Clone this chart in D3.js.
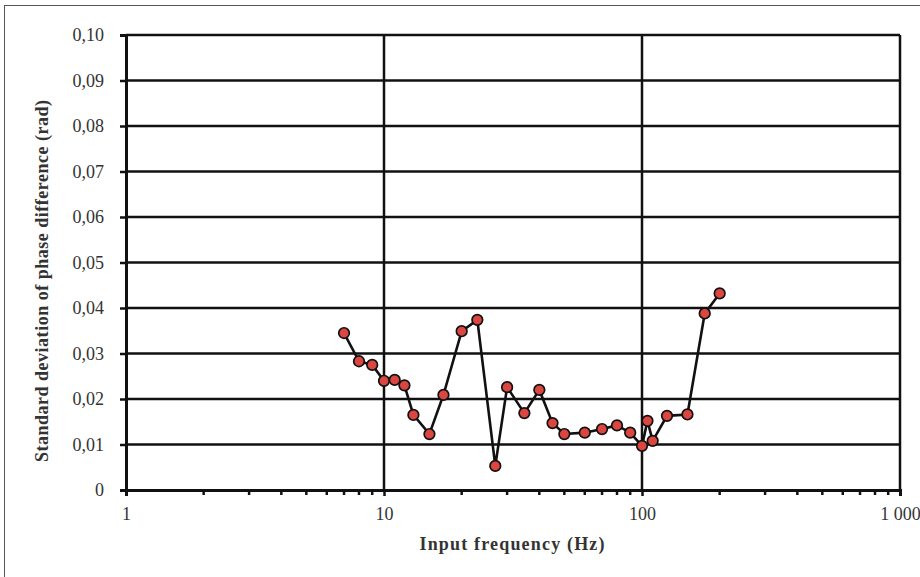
<!doctype html>
<html>
<head>
<meta charset="utf-8">
<script src="https://cdnjs.cloudflare.com/ajax/libs/d3/7.8.5/d3.min.js"></script>
<style>
  body { margin: 0; background: #fff; }
  svg text { font-family: "Liberation Serif", "DejaVu Serif", serif; fill: #333; }
</style>
</head>
<body>
<svg id="chart" width="920" height="577"></svg>
<script>
// input frequency (Hz) and std deviation of phase difference (rad)
var freq = [7, 8, 9, 10, 11, 12, 13, 15, 17, 20, 23, 27, 30, 35, 40, 45, 50, 60, 70, 80, 90, 100, 105, 110, 125, 150, 175, 200];
var stdDev = [0.0345, 0.0283, 0.0275, 0.0240, 0.0242, 0.0230, 0.0165, 0.0123, 0.0209, 0.0349, 0.0374, 0.0053, 0.0226, 0.0169, 0.0220, 0.0147, 0.0123, 0.0126, 0.0134, 0.0142, 0.0126, 0.0097, 0.0152, 0.0108, 0.0163, 0.0166, 0.0388, 0.0432];

var xTicks = [1, 10, 100, 1000];
var xTickLabels = ["1", "10", "100", "1 000"];
var yTicks = [0, 0.01, 0.02, 0.03, 0.04, 0.05, 0.06, 0.07, 0.08, 0.09, 0.10];
var yTickLabels = ["0", "0,01", "0,02", "0,03", "0,04", "0,05", "0,06", "0,07", "0,08", "0,09", "0,10"];

// plot area (note: "top" is a reserved window global, so use other names)
var plotL = 126, plotR = 900, plotT = 35, plotB = 490;

var svg = d3.select('#chart');

// outer frame
svg.append('rect')
  .attr('x', 4.5).attr('y', 5.5)
  .attr('width', 940).attr('height', 600)
  .attr('fill', 'none')
  .attr('stroke', '#555')
  .attr('stroke-width', 1);

var x = d3.scaleLog().domain([1, 1000]).range([plotL, plotR]);
var y = d3.scaleLinear().domain([0, 0.1]).range([plotB, plotT]);

// grid
svg.append('g').selectAll('line')
  .data(yTicks.slice(1))
  .enter().append('line')
  .attr('x1', plotL).attr('x2', plotR)
  .attr('y1', d => y(d)).attr('y2', d => y(d))
  .attr('stroke', '#111').attr('stroke-width', 2.5);

svg.append('g').selectAll('line')
  .data(xTicks.slice(1))
  .enter().append('line')
  .attr('x1', d => x(d)).attr('x2', d => x(d))
  .attr('y1', plotT).attr('y2', plotB)
  .attr('stroke', '#111').attr('stroke-width', 2.5);

// minor ticks 2..9 per decade
var minor = [];
[1, 10, 100].forEach(function(dec){
  for (var k = 2; k <= 9; k++) minor.push(dec * k);
});

var xAxis = d3.axisBottom(x)
  .tickValues(xTicks)
  .tickSize(6)
  .tickPadding(11)
  .tickFormat((d, i) => xTickLabels[i]);

var gx = svg.append('g')
  .attr('transform', 'translate(0,' + plotB + ')')
  .call(xAxis);
gx.select('.domain').attr('stroke', '#111').attr('stroke-width', 3);
gx.selectAll('.tick line').attr('stroke', '#111').attr('stroke-width', 2.5);
gx.selectAll('.tick text').attr('font-size', 18).attr('fill', '#333');

svg.append('g').selectAll('line')
  .data(minor)
  .enter().append('line')
  .attr('x1', d => x(d)).attr('x2', d => x(d))
  .attr('y1', plotB).attr('y2', plotB + 5)
  .attr('stroke', '#111').attr('stroke-width', 2.5);

var yAxis = d3.axisLeft(y)
  .tickValues(yTicks)
  .tickSize(6)
  .tickPadding(16)
  .tickFormat((d, i) => yTickLabels[i]);

var gy = svg.append('g')
  .attr('transform', 'translate(' + plotL + ',0)')
  .call(yAxis);
gy.select('.domain').attr('stroke', '#111').attr('stroke-width', 3);
gy.selectAll('.tick line').attr('stroke', '#111').attr('stroke-width', 2.5);
gy.selectAll('.tick text').attr('font-size', 18).attr('fill', '#333');

// series
var pts = freq.map((f, i) => [f, stdDev[i]]);

svg.append('path')
  .datum(pts)
  .attr('fill', 'none')
  .attr('stroke', '#111')
  .attr('stroke-width', 2.6)
  .attr('d', d3.line().x(d => x(d[0])).y(d => y(d[1])));

svg.append('g').selectAll('circle')
  .data(pts)
  .enter().append('circle')
  .attr('cx', d => x(d[0]))
  .attr('cy', d => y(d[1]))
  .attr('r', 5.3)
  .attr('fill', '#dc4641')
  .attr('stroke', '#111')
  .attr('stroke-width', 1.7);

// axis titles
svg.append('text')
  .attr('x', 512)
  .attr('y', 550)
  .attr('text-anchor', 'middle')
  .attr('font-size', 18)
  .attr('font-weight', 'bold')
  .attr('textLength', 185)
  .attr('lengthAdjust', 'spacing')
  .text('Input frequency (Hz)');

svg.append('text')
  .attr('transform', 'translate(48,281) rotate(-90)')
  .attr('text-anchor', 'middle')
  .attr('font-size', 18)
  .attr('font-weight', 'bold')
  .attr('textLength', 362)
  .attr('lengthAdjust', 'spacing')
  .text('Standard deviation of phase difference (rad)');
</script>
</body>
</html>
